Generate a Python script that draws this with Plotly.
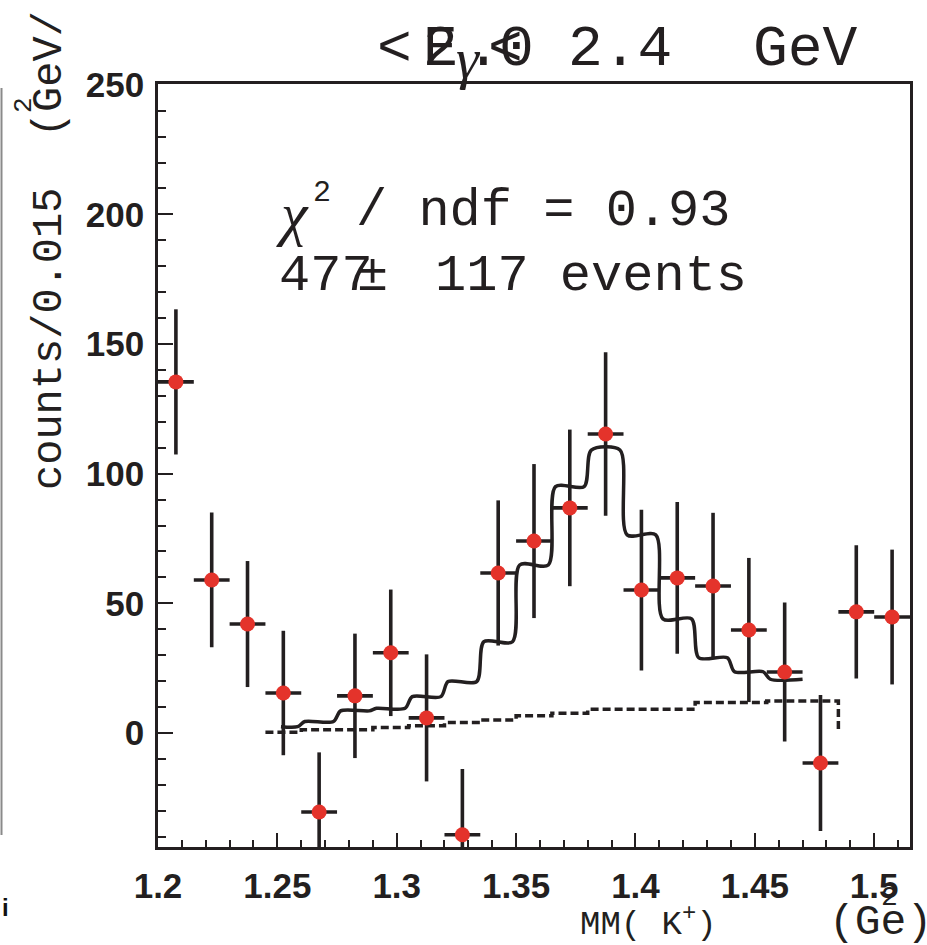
import plotly.graph_objects as go

# ---- data -------------------------------------------------------------
# missing-mass bin centres (GeV^2), 0.015 GeV^2 bins starting at 1.2
mm_centers = [1.2075, 1.2225, 1.2375, 1.2525, 1.2675, 1.2825, 1.2975,
              1.3125, 1.3275, 1.3425, 1.3575, 1.3725, 1.3875, 1.4025,
              1.4175, 1.4325, 1.4475, 1.4625, 1.4775, 1.4925, 1.5075]
counts = [135.4, 59.0, 42.0, 15.4, -30.5, 14.3, 30.9, 5.8, -39.3, 61.7,
          74.0, 86.8, 115.3, 55.1, 59.8, 56.7, 39.7, 23.5, -11.6, 46.7, 44.7]
count_err = [28.0, 26.0, 24.3, 24.0, 23.0, 24.0, 24.4, 24.5, 25.4, 28.0,
             29.7, 30.2, 31.5, 31.0, 29.3, 28.2, 27.8, 26.8, 26.2, 25.7, 26.0]
half_bin = 0.0075

# total fit (signal + background), one level per bin
fit_edges = [1.2515, 1.26, 1.275, 1.29, 1.305, 1.32, 1.335, 1.35, 1.365,
             1.38, 1.395, 1.41, 1.425, 1.44, 1.455, 1.47]
fit_levels = [2.4, 4.4, 8.5, 9.5, 14.0, 19.8, 35.2, 64.8, 95.0, 109.1,
              76.4, 44.0, 29.0, 23.6, 20.7]

# background component
bkg_edges = [1.245, 1.26, 1.275, 1.29, 1.305, 1.32, 1.335, 1.35, 1.365,
             1.38, 1.395, 1.41, 1.425, 1.44, 1.455, 1.47, 1.485]
bkg_levels = [0.3, 1.2, 1.2, 2.1, 2.8, 4.0, 5.0, 6.6, 7.6, 9.1, 9.1, 9.1,
              11.7, 11.7, 12.3, 12.3]
bkg_floor = 0.3

x_tick_vals = [1.2, 1.25, 1.3, 1.35, 1.4, 1.45, 1.5]
x_tick_text = ["1.2", "1.25", "1.3", "1.35", "1.4", "1.45", "1.5"]
y_tick_vals = [0, 50, 100, 150, 200, 250]
y_tick_text = ["0", "50", "100", "150", "200", "250"]

# ---- geometry ---------------------------------------------------------
W, H = 927, 945
L, R, T, B = 158, 910, 84, 847
INK = "#231f20"
MONO = "Courier New, Liberation Mono, monospace"
SERIF = "Liberation Serif, serif"


def px(xp):
    return (xp - L) / (R - L)


def py(yp):
    return (B - yp) / (B - T)


# smoothed step curve for the fit
d = 0.0015
fit_x, fit_y = [], []
for i, lev in enumerate(fit_levels):
    lo, hi = fit_edges[i], fit_edges[i + 1]
    fit_x += [lo if i == 0 else lo + d, hi if i == len(fit_levels) - 1 else hi - d]
    fit_y += [lev, lev]

# step curve for the background
bkg_x = list(bkg_edges) + [bkg_edges[-1]]
bkg_y = list(bkg_levels) + [bkg_levels[-1], bkg_floor]

fig = go.Figure()

fig.add_trace(go.Scatter(
    x=bkg_x, y=bkg_y, mode="lines", line_shape="hv",
    line=dict(color=INK, width=3.5, dash="8px,4px"), hoverinfo="skip"))

fig.add_trace(go.Scatter(
    x=fit_x, y=fit_y, mode="lines", line_shape="spline",
    line=dict(color=INK, width=3.5, smoothing=0.8), hoverinfo="skip"))

fig.add_trace(go.Scatter(
    x=mm_centers, y=counts, mode="markers",
    marker=dict(color="#e4332b", size=15, line=dict(width=0)),
    error_y=dict(type="data", array=count_err, color=INK, thickness=3.6, width=0),
    error_x=dict(type="constant", value=half_bin, color=INK, thickness=3.6, width=0)))

tickfont = dict(family="Liberation Sans", size=35, color=INK, weight="bold")

fig.update_xaxes(
    range=[1.2, 1.515], tickvals=x_tick_vals, ticktext=x_tick_text,
    ticks="inside", ticklen=14, tickwidth=1.5, tickcolor=INK,
    minor=dict(dtick=0.01, ticks="inside", ticklen=7, tickwidth=1.5, tickcolor=INK),
    showline=True, linecolor=INK, linewidth=2.5, mirror=True,
    showgrid=False, zeroline=False, tickfont=tickfont, ticklabelstandoff=6)

fig.update_yaxes(
    range=[-44, 250.3], tickvals=y_tick_vals, ticktext=y_tick_text,
    ticks="inside", ticklen=15, tickwidth=1.5, tickcolor=INK,
    minor=dict(dtick=10, ticks="inside", ticklen=8, tickwidth=1.5, tickcolor=INK),
    showline=True, linecolor=INK, linewidth=2.5, mirror=True,
    showgrid=False, zeroline=False, tickfont=tickfont, ticklabelstandoff=4)


def txt(text, xp, yp, size, family=MONO, xanchor="center", yanchor="middle",
        angle=0, color=INK):
    return dict(text=text, x=px(xp), y=py(yp), xref="paper", yref="paper",
                xanchor=xanchor, yanchor=yanchor, showarrow=False,
                textangle=angle, font=dict(family=family, size=size, color=color))


ann = [
    # header: energy range
    txt("&lt;", 394, 49, 58),
    txt("E", 440, 49, 58),
    txt("2", 440, 49, 58),
    txt("<i>γ</i>", 468, 58, 58, family=SERIF),
    txt(".", 483, 49, 58),
    txt("&lt;", 505, 49, 58),
    txt("0", 516, 49, 58),
    txt("2.4", 566, 49, 58, xanchor="left"),
    txt("GeV", 805, 49, 58),
    # fit summary
    txt("<i>χ</i>", 292, 214, 60, family=SERIF),
    txt("2", 322, 193, 30),
    txt("/ ndf = 0.93", 354, 212, 52, xanchor="left"),
    txt("477  117 events", 277, 276, 52, xanchor="left"),
    txt("±", 372, 276, 52),
    # axis titles
    txt("MM( K<sup>+</sup>)", 578, 922, 34, xanchor="left"),
    txt("(Ge)", 827, 922, 43, xanchor="left"),
    txt("2", 889, 898, 28),
    txt("counts/0.015  (GeV/", 50, 251, 42, angle=-90),
    txt("2", 24, 105, 26, angle=-90),
    txt("<b>i</b>", 0, 907, 24, family="Liberation Sans", xanchor="left",
        color="#111111"),
]

fig.update_layout(
    width=W, height=H,
    margin=dict(l=L, r=W - R, t=T, b=H - B, pad=0),
    paper_bgcolor="white", plot_bgcolor="white",
    showlegend=False, annotations=ann,
    shapes=[dict(type="line", xref="paper", yref="paper",
                 x0=px(1.5), x1=px(1.5), y0=py(88), y1=py(835),
                 line=dict(color="#8a8a8a", width=2))])

fig.write_html("out.html")
